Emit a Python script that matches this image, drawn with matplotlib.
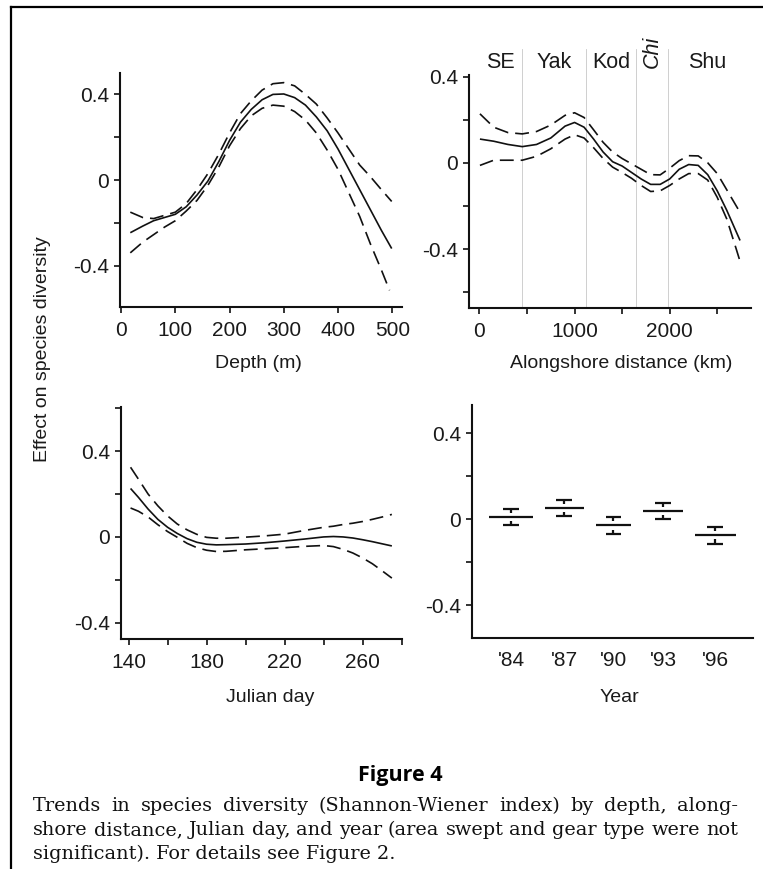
import matplotlib
matplotlib.use("Agg")
import matplotlib.pyplot as plt
import matplotlib.transforms as mtransforms
from matplotlib.lines import Line2D

plt.rcParams['font.family'] = ['Liberation Sans', 'DejaVu Sans']
plt.rcParams['lines.scale_dashes'] = False

W, H = 763, 869

# ---------------- data ----------------
depth = [17, 40, 60, 80, 100, 120, 140, 160, 180, 200, 220, 240, 260, 280, 300,
         320, 340, 360, 380, 400, 420, 440, 460, 480, 499]
depth_fit = [-0.246, -0.215, -0.19, -0.175, -0.16, -0.125, -0.07, -0.005, 0.085, 0.185,
             0.27, 0.33, 0.375, 0.40, 0.402, 0.385, 0.35, 0.295, 0.23, 0.145, 0.05,
             -0.045, -0.14, -0.235, -0.32]
depth_upper = [-0.15, -0.175, -0.18, -0.165, -0.15, -0.11, -0.045, 0.03, 0.12, 0.22,
               0.31, 0.37, 0.42, 0.45, 0.455, 0.44, 0.40, 0.355, 0.29, 0.22, 0.145,
               0.07, 0.015, -0.045, -0.10]
depth_lower_x = [17, 40, 60, 80, 100, 120, 140, 160, 180, 200, 220, 240, 260, 280, 300,
                 320, 340, 360, 380, 400, 420, 440, 460, 480, 495]
depth_lower = [-0.34, -0.29, -0.255, -0.22, -0.19, -0.145, -0.095, -0.025, 0.06, 0.16,
               0.24, 0.30, 0.335, 0.35, 0.345, 0.32, 0.28, 0.22, 0.14, 0.05, -0.06,
               -0.17, -0.30, -0.42, -0.515]

along = [5, 150, 300, 450, 600, 750, 900, 1000, 1100, 1200, 1300, 1400, 1500, 1600,
         1700, 1800, 1900, 2000, 2100, 2200, 2300, 2400, 2500, 2600, 2700, 2740]
along_fit = [0.11, 0.10, 0.085, 0.075, 0.085, 0.115, 0.17, 0.187, 0.165, 0.11, 0.05,
             0.005, -0.015, -0.045, -0.075, -0.10, -0.10, -0.075, -0.03, -0.008, -0.012,
             -0.055, -0.13, -0.22, -0.32, -0.36]
along_upper = [0.227, 0.165, 0.14, 0.134, 0.145, 0.175, 0.22, 0.232, 0.21, 0.153, 0.095,
               0.05, 0.02, -0.005, -0.03, -0.055, -0.056, -0.025, 0.01, 0.033, 0.032,
               0.0, -0.05, -0.125, -0.2, -0.23]
along_lower = [-0.012, 0.012, 0.012, 0.012, 0.03, 0.065, 0.11, 0.13, 0.115, 0.07, 0.02,
               -0.02, -0.045, -0.072, -0.105, -0.133, -0.13, -0.105, -0.075, -0.05, -0.05,
               -0.08, -0.16, -0.26, -0.4, -0.457]
region_edges = [0, 450, 1120, 1650, 1980, 2800]
region_names = ["SE", "Yak", "Kod", "Chi", "Shu"]

day = [141, 145, 150, 155, 160, 165, 170, 175, 180, 185, 190, 200, 210, 220, 230, 240,
       245, 250, 255, 260, 265, 270, 275]
day_fit = [0.226, 0.185, 0.13, 0.082, 0.045, 0.016, -0.008, -0.025, -0.034, -0.037,
           -0.036, -0.033, -0.027, -0.019, -0.01, 0.0, 0.002, 0.0, -0.005, -0.013, -0.022,
           -0.032, -0.042]
day_upper = [0.325, 0.27, 0.2, 0.145, 0.098, 0.06, 0.033, 0.012, -0.002, -0.006, -0.006,
             -0.001, 0.005, 0.013, 0.03, 0.045, 0.05, 0.058, 0.064, 0.072, 0.082, 0.093,
             0.105]
day_lower = [0.135, 0.12, 0.093, 0.057, 0.025, -0.002, -0.03, -0.05, -0.062, -0.068,
             -0.067, -0.06, -0.055, -0.05, -0.044, -0.04, -0.045, -0.058, -0.075, -0.098,
             -0.125, -0.158, -0.192]

years = ["'84", "'87", "'90", "'93", "'96"]
year_n = [44, 39, 36, 40, 41]
year_effect = [0.009, 0.051, -0.029, 0.038, -0.074]
year_se = [0.037, 0.038, 0.040, 0.038, 0.040]

caption_title = "Figure 4"
caption_lines = [
    "Trends in species diversity (Shannon-Wiener index) by depth, along-",
    "shore distance, Julian day, and year (area swept and gear type were not",
    "significant). For details see Figure 2.",
]

# ---------------- figure ----------------
fig = plt.figure(figsize=(W / 100, H / 100), dpi=100)


def ax_px(x0, x1, y0, y1):
    return fig.add_axes([x0 / W, 1 - y1 / H, (x1 - x0) / W, (y1 - y0) / H])


TICK_FS = 15
LAB_FS = 14
LW = 1.2
DASH = (10, 5)
TXT = '#1a1a1a'


def style(ax):
    for s in ('top', 'right'):
        ax.spines[s].set_visible(False)
    for s in ('left', 'bottom'):
        ax.spines[s].set_linewidth(1.5)
        ax.spines[s].set_color('#111111')
    ax.tick_params(direction='out', length=4, width=1.2, color='#111111',
                   labelsize=TICK_FS, labelcolor=TXT)
    ax.tick_params(axis='y', pad=4)
    ax.tick_params(axis='x', pad=6)
    ax.patch.set_alpha(0)


def curves(ax, x, fit, xu, up, xl, lo):
    ax.plot(x, fit, color='#111111', lw=LW, solid_capstyle='butt')
    ax.plot(xu, up, color='#111111', lw=LW, dashes=DASH)
    ax.plot(xl, lo, color='#111111', lw=LW, dashes=DASH)


def yticks(ax, labeled, unlabeled):
    ticks = sorted(labeled + unlabeled)
    ax.set_yticks(ticks)
    ax.set_yticklabels([("%g" % t if t != 0 else "0") if t in labeled else "" for t in ticks])


# Panel 1: Depth
ax1 = ax_px(120, 402, 73, 307)
style(ax1)
curves(ax1, depth, depth_fit, depth, depth_upper, depth_lower_x, depth_lower)
ax1.set_xlim(-2, 518)
ax1.set_ylim(-0.593, 0.50)
ax1.set_xticks([0, 100, 200, 300, 400, 500])
yticks(ax1, [-0.4, 0, 0.4], [-0.2, 0.2])

# Panel 2: Alongshore distance
ax2 = ax_px(469, 751, 75, 308)
style(ax2)
curves(ax2, along, along_fit, along, along_upper, along, along_lower)
ax2.set_xlim(-110, 2855)
ax2.set_ylim(-0.673, 0.407)
ax2.set_xticks([0, 500, 1000, 1500, 2000, 2500])
ax2.set_xticklabels(["0", "", "1000", "", "2000", ""])
yticks(ax2, [-0.4, 0, 0.4], [-0.6, -0.2, 0.2])
trans2 = mtransforms.blended_transform_factory(ax2.transData, ax2.transAxes)
for e in region_edges[1:-1]:
    ax2.add_line(Line2D([e, e], [0, 1.11], transform=trans2, color='#c8c8c8',
                        lw=0.6, clip_on=False, zorder=0))
for i, name in enumerate(region_names):
    xc = (region_edges[i] + region_edges[i + 1]) / 2
    if name == "Chi":
        ax2.text(xc, 1.028, name, transform=trans2, rotation=90, style='italic',
                 ha='center', va='bottom', fontsize=15.5, color=TXT)
    else:
        ax2.text(xc, 1.028, name, transform=trans2, ha='center', va='baseline',
                 fontsize=15.5, color=TXT)

# Panel 3: Julian day
ax3 = ax_px(121, 402, 407, 639)
style(ax3)
curves(ax3, day, day_fit, day, day_upper, day, day_lower)
ax3.set_xlim(136.1, 280.2)
ax3.set_ylim(-0.476, 0.606)
ax3.set_xticks([140, 160, 180, 200, 220, 240, 260, 280])
ax3.set_xticklabels(["140", "", "180", "", "220", "", "260", ""])
yticks(ax3, [-0.4, 0, 0.4], [-0.2, 0.2, 0.6])

# Panel 4: Year
ax4 = ax_px(472, 753, 405, 638)
style(ax4)
gap, margin = 12, 17.5
x = margin
centers = []
for n, m, se in zip(year_n, year_effect, year_se):
    c = x + n / 2
    centers.append(c)
    ax4.plot([x, x + n], [m, m], color='#111111', lw=1.6, solid_capstyle='butt')
    for sgn in (1, -1):
        ax4.plot([c - 8, c + 8], [m + sgn * se, m + sgn * se], color='#111111', lw=1.6,
                 solid_capstyle='butt')
        ax4.plot([c, c], [m + sgn * se, m + sgn * se * 0.5], color='#111111', lw=1.6,
                 solid_capstyle='butt')
    x += n + gap
ax4.set_xlim(0, x - gap + margin)
ax4.set_ylim(-0.551, 0.53)
ax4.set_xticks(centers)
ax4.set_xticklabels(years)
ax4.tick_params(axis='x', length=0, pad=9)
yticks(ax4, [-0.4, 0, 0.4], [-0.2, 0.2])

# Axis labels (pixel placed)
def ptext(px, py, s, **kw):
    return fig.text(px / W, 1 - py / H, s, **kw)

ptext(258, 364, "Depth (m)", ha='center', va='center', fontsize=LAB_FS, color=TXT)
ptext(621, 363, "Alongshore distance (km)", ha='center', va='center', fontsize=LAB_FS, color=TXT)
ptext(270, 698, "Julian day", ha='center', va='center', fontsize=LAB_FS, color=TXT)
ptext(619, 698, "Year", ha='center', va='center', fontsize=LAB_FS, color=TXT)
ptext(43, 349, "Effect on species diversity", ha='center', va='center', rotation=90,
      fontsize=LAB_FS, color=TXT)

# Border lines (top and left)
fig.add_artist(Line2D([11 / W, 1], [1 - 6.5 / H, 1 - 6.5 / H], transform=fig.transFigure,
                      color='black', lw=1.6))
fig.add_artist(Line2D([11 / W, 11 / W], [0, 1 - 6.5 / H], transform=fig.transFigure,
                      color='black', lw=1.6))

# Caption
ptext(400, 776, caption_title, ha='center', va='center', fontsize=15.5,
      family=['Open Sans', 'DejaVu Sans'], weight='bold', color='black')

x0, x1 = 33, 738
line_y = [806, 830, 854]
fig.canvas.draw()
renderer = fig.canvas.get_renderer()
# fit caption font so the second (justified) line has near-natural spacing
probe = ptext(0, 0, caption_lines[1], fontsize=12, family=['DejaVu Serif'])
pw = probe.get_window_extent(renderer).width
probe.remove()
cap_size = 12 * (x1 - x0 - 4) / pw
cap_fp = dict(fontsize=cap_size, family=['DejaVu Serif'], color='#111111', va='center')
for li, (line, yy) in enumerate(zip(caption_lines, line_y)):
    if li < 2:
        words = line.split(" ")
        ts = [ptext(0, yy, w, ha='left', **cap_fp) for w in words]
        widths = [t.get_window_extent(renderer).width for t in ts]
        g = (x1 - x0 - sum(widths)) / (len(words) - 1)
        xx = x0
        for t, w in zip(ts, widths):
            t.set_x(xx / W)
            xx += w + g
    else:
        ptext(x0, yy, line, ha='left', **cap_fp)

fig.savefig("out.png", dpi=100)
